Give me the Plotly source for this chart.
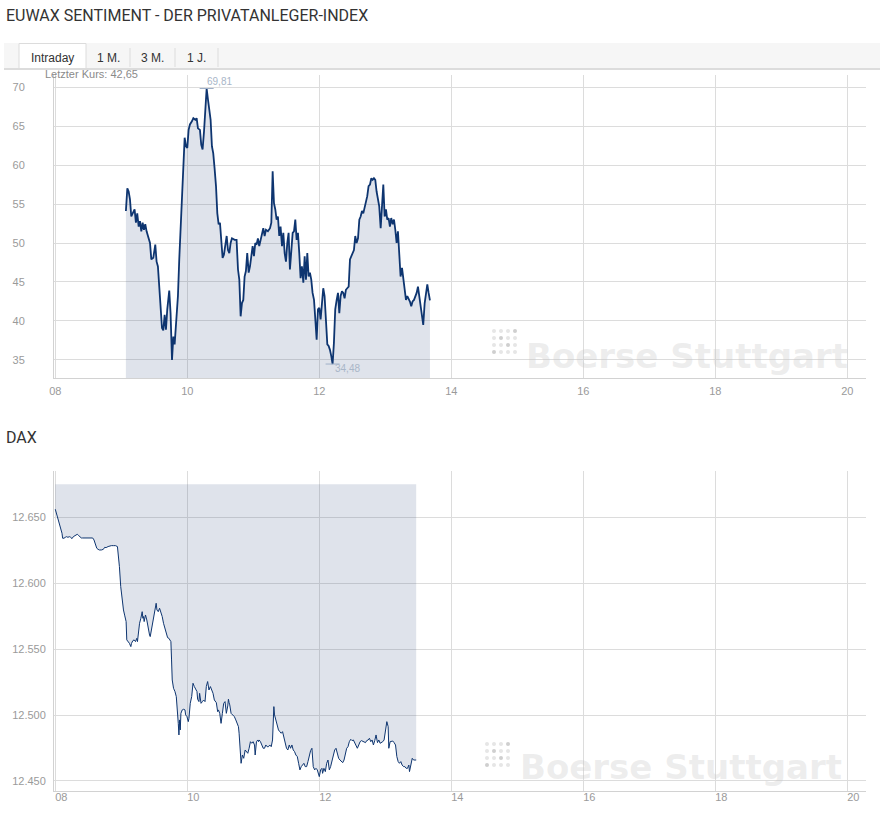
import pandas as pd
import plotly.graph_objects as go

W, H = 880, 816
DAY = "2019-06-03"

# ---------------- data: EUWAX sentiment (minutes after 09:00, index value)
sent_minutes = [
    4.2, 5.5, 6.7, 7.9, 9.1, 10.9, 12.1, 13.3, 14.5, 15.8,
    17.0, 18.2, 19.4, 20.6, 21.8, 23.0, 24.9, 26.1, 27.3, 29.1,
    30.9, 32.1, 33.3, 34.5, 35.8, 37.0, 38.2, 39.4, 40.6, 41.8,
    43.6, 44.8, 46.1, 47.3, 48.5, 50.3, 51.5, 52.7, 53.9, 55.2,
    56.4, 57.6, 58.8, 60.0, 61.2, 62.4, 64.2, 65.5, 67.3, 68.5,
    69.7, 71.5, 72.7, 73.9, 75.2, 76.4, 77.6, 78.8, 80.0, 81.2,
    82.4, 83.6, 84.8, 86.1, 87.3, 88.5, 89.7, 90.9, 92.1, 93.3,
    94.5, 95.8, 97.0, 98.2, 99.4, 100.6, 101.8, 103.0, 104.8, 106.1,
    107.3, 108.5, 109.7, 110.9, 112.1, 113.3, 114.5, 115.8, 117.0, 118.2,
    119.4, 120.6, 121.8, 123.0, 124.2, 125.4, 126.7, 127.9, 129.1, 130.3,
    131.5, 133.3, 135.2, 136.4, 137.6, 138.8, 140.0, 141.2, 142.4, 143.6,
    144.8, 146.1, 147.3, 148.5, 149.7, 150.9, 152.1, 153.3, 154.5, 155.8,
    157.0, 158.2, 159.4, 160.6, 161.8, 163.0, 164.2, 165.5, 166.7, 167.9,
    169.1, 170.3, 171.5, 172.7, 173.9, 175.2, 176.4, 177.6, 178.8, 180.0,
    181.2, 182.4, 183.6, 184.8, 186.1, 187.3, 188.5, 189.7, 190.9, 192.1,
    193.3, 194.5, 195.8, 197.0, 198.2, 199.4, 200.6, 201.8, 203.0, 204.2,
    205.4, 206.7, 207.9, 209.7, 211.5, 212.7, 213.9, 215.2, 216.4, 217.6,
    218.8, 220.0, 221.2, 222.4, 223.6, 224.8, 226.1, 227.3, 228.5, 229.7,
    230.9, 232.1, 233.3, 234.5, 235.8, 237.0, 238.2, 239.4, 240.6, 241.8,
    243.0, 244.2, 245.4, 246.7, 247.9, 249.1, 250.3, 251.5, 252.7, 253.9,
    255.2, 256.4, 257.6, 258.8, 260.0, 261.2, 262.4, 263.6, 264.8, 266.1,
    267.3, 268.5, 269.7, 270.9, 272.1, 273.3, 274.5, 275.8, 277.0, 278.2,
    279.4, 280.6,
]
sent_values = [
    54.1, 57.0, 56.6, 55.6, 53.4, 54.1, 54.3, 52.6, 53.8, 52.1,
    52.8, 51.5, 52.6, 51.7, 52.4, 51.5, 50.4, 50.0, 47.9, 48.1,
    49.8, 47.6, 47.0, 44.4, 41.5, 39.1, 38.8, 40.8, 38.9, 41.5,
    43.9, 41.0, 35.0, 38.0, 37.0, 41.0, 43.2, 47.9, 52.1, 56.4,
    59.8, 63.5, 62.4, 62.2, 64.5, 65.2, 65.6, 66.0, 65.8, 66.0,
    64.7, 64.5, 62.6, 62.0, 64.3, 67.1, 69.81, 68.4, 66.7, 65.8,
    62.4, 61.5, 59.6, 57.3, 53.8, 52.4, 52.6, 49.6, 48.1, 48.5,
    49.6, 50.9, 49.1, 48.7, 50.0, 50.6, 50.5, 50.4, 50.4, 46.6,
    45.3, 40.6, 42.3, 42.7, 45.7, 46.4, 48.7, 46.2, 47.0, 48.7,
    49.6, 48.3, 50.0, 49.8, 50.6, 49.6, 50.4, 50.9, 51.9, 50.9,
    51.7, 51.5, 51.9, 52.6, 59.2, 55.1, 54.3, 53.0, 53.4, 50.9,
    52.1, 49.6, 51.3, 48.7, 47.6, 50.0, 51.3, 46.6, 48.7, 51.3,
    51.5, 53.0, 50.4, 51.3, 48.7, 45.5, 47.0, 44.9, 48.3, 45.3,
    48.7, 45.7, 46.2, 45.3, 43.6, 42.7, 40.2, 37.6, 41.5, 41.7,
    40.2, 42.5, 44.2, 43.2, 40.2, 37.0, 36.8, 36.3, 35.5, 34.48,
    37.2, 41.5, 42.7, 43.6, 41.0, 43.2, 43.8, 43.6, 42.9, 44.0,
    44.2, 44.4, 47.9, 48.5, 49.1, 50.9, 50.0, 50.6, 53.0, 53.4,
    54.1, 53.8, 54.5, 54.9, 56.0, 57.3, 57.5, 58.3, 58.1, 58.3,
    58.1, 56.6, 55.3, 54.7, 51.9, 55.1, 57.5, 53.4, 54.3, 53.0,
    53.2, 52.1, 53.2, 52.4, 53.0, 51.7, 50.0, 51.5, 49.1, 45.7,
    46.8, 45.3, 43.6, 42.7, 43.2, 42.9, 42.5, 41.9, 42.5, 42.7,
    43.2, 43.6, 44.4, 43.2, 41.9, 41.0, 39.5, 42.3, 43.8, 44.7,
    43.6, 42.65,
]

# ---------------- data: DAX (minutes after 08:00, points)
dax_minutes = [
    0.0, 1.2, 2.4, 3.6, 4.9, 6.1, 6.7, 7.9, 9.1, 10.3,
    11.5, 12.8, 14.0, 15.2, 16.4, 17.6, 18.8, 20.0, 21.3, 22.5,
    23.7, 24.9, 26.7, 28.6, 31.0, 32.8, 34.0, 35.2, 36.5, 37.7,
    38.9, 40.1, 41.9, 43.7, 44.9, 46.2, 48.0, 49.2, 51.0, 52.9,
    54.7, 56.5, 57.1, 58.3, 59.5, 60.8, 62.0, 63.2, 64.4, 65.0,
    66.2, 67.4, 68.7, 69.3, 70.5, 71.7, 72.9, 74.1, 74.7, 75.3,
    76.6, 77.8, 79.0, 79.6, 80.2, 80.8, 82.0, 83.2, 84.5, 85.7,
    86.3, 87.5, 88.7, 89.9, 91.1, 91.7, 92.4, 93.6, 94.8, 96.0,
    97.2, 98.4, 99.6, 100.9, 102.1, 103.3, 104.5, 105.1, 105.7, 106.3,
    107.5, 108.8, 110.0, 111.2, 111.8, 112.4, 113.0, 113.6, 114.2, 115.4,
    116.7, 117.9, 118.5, 119.7, 120.9, 121.5, 122.7, 124.0, 125.2, 126.4,
    127.6, 128.8, 129.4, 130.6, 131.2, 132.5, 133.7, 134.9, 136.1, 137.3,
    138.5, 139.7, 141.0, 142.2, 143.4, 144.6, 146.4, 147.6, 148.3, 149.5,
    150.7, 151.9, 153.1, 154.3, 155.5, 156.8, 157.4, 158.0, 158.6, 159.8,
    161.6, 162.8, 164.1, 165.3, 166.5, 167.1, 167.7, 168.9, 170.1, 171.3,
    172.6, 173.8, 175.0, 176.2, 177.4, 178.6, 179.8, 181.1, 181.7, 182.9,
    184.1, 184.7, 185.3, 186.5, 187.7, 189.0, 190.2, 191.4, 192.6, 193.8,
    195.0, 196.3, 197.5, 198.7, 199.3, 200.5, 201.7, 202.9, 204.1, 205.4,
    206.6, 207.8, 209.0, 210.2, 211.4, 212.7, 213.9, 215.1, 216.3, 217.5,
    218.7, 220.0, 221.2, 222.4, 223.6, 224.8, 226.0, 227.2, 228.5, 229.7,
    230.9, 232.1, 233.3, 233.9, 234.5, 235.8, 237.0, 238.2, 239.4, 240.0,
    241.2, 242.4, 243.0, 244.2, 245.5, 246.7, 247.9, 249.1, 250.3, 251.5,
    252.8, 254.0, 255.2, 256.4, 257.6, 258.8, 260.0, 261.3, 262.5, 263.7,
    264.9, 266.1, 267.3, 268.6, 269.8, 271.0, 272.2, 273.4, 274.6, 275.9,
    277.1, 278.3, 280.1, 282.0, 283.1, 284.4, 285.6, 286.8, 288.0, 289.2,
    290.4, 291.6, 292.9, 294.1, 295.3, 296.5, 297.7, 298.9, 300.2, 301.4,
    302.6, 303.2, 304.4, 305.6, 306.8, 308.0, 309.3, 310.5, 311.7, 312.9,
    314.1, 315.3, 316.6, 317.8, 319.0, 320.2, 321.4, 322.0, 323.2, 324.5,
    325.7, 326.9, 328.1,
]
dax_values = [
    12656.1, 12652.3, 12649.2, 12646.7, 12641.7, 12637.9, 12634.1, 12634.1, 12634.8, 12635.3,
    12634.8, 12635.3, 12634.8, 12633.8, 12635.3, 12635.8, 12636.3, 12637.1, 12636.1, 12634.8,
    12634.3, 12634.3, 12634.3, 12634.8, 12634.8, 12634.8, 12634.3, 12632.8, 12629.0, 12626.5,
    12625.7, 12625.2, 12625.2, 12625.7, 12627.2, 12627.0, 12627.8, 12628.3, 12628.5, 12628.5,
    12628.5, 12627.8, 12624.0, 12612.6, 12597.4, 12587.3, 12579.7, 12575.2, 12570.9, 12557.0,
    12555.7, 12554.4, 12551.9, 12554.4, 12556.4, 12557.0, 12555.7, 12558.2, 12555.7, 12562.0,
    12569.6, 12573.4, 12578.4, 12573.4, 12574.7, 12570.9, 12575.9, 12572.1, 12564.5, 12560.7,
    12559.5, 12565.8, 12572.6, 12575.9, 12582.2, 12584.8, 12579.7, 12578.4, 12581.0, 12578.4,
    12574.7, 12569.6, 12565.8, 12562.0, 12558.7, 12558.2, 12557.0, 12555.7, 12541.8, 12526.6,
    12520.3, 12517.8, 12514.0, 12503.9, 12493.7, 12484.9, 12496.3, 12488.7, 12501.3, 12503.9,
    12504.4, 12503.9, 12500.1, 12498.8, 12495.0, 12497.5, 12508.9, 12514.0, 12524.1, 12521.6,
    12519.0, 12517.8, 12512.0, 12510.2, 12516.5, 12508.9, 12510.2, 12511.4, 12510.2, 12521.6,
    12525.4, 12519.0, 12521.6, 12519.0, 12516.5, 12511.4, 12509.4, 12502.6, 12503.9, 12501.3,
    12493.7, 12501.3, 12508.9, 12510.2, 12501.3, 12506.9, 12512.0, 12509.4, 12507.7, 12501.3,
    12500.1, 12498.8, 12496.3, 12493.7, 12491.2, 12486.2, 12476.0, 12463.4, 12469.7, 12467.2,
    12473.5, 12472.3, 12471.0, 12474.8, 12479.8, 12478.6, 12479.8, 12477.3, 12469.7, 12479.8,
    12481.1, 12479.8, 12481.1, 12479.8, 12477.3, 12474.8, 12474.8, 12477.3, 12476.0, 12476.0,
    12477.3, 12476.0, 12481.1, 12506.4, 12500.1, 12496.3, 12492.5, 12488.7, 12487.4, 12486.2,
    12487.4, 12482.4, 12478.6, 12474.8, 12473.5, 12477.3, 12474.8, 12477.3, 12473.5, 12472.3,
    12469.7, 12468.5, 12463.4, 12458.4, 12460.9, 12462.1, 12463.4, 12460.9, 12460.9, 12464.7,
    12469.7, 12473.0, 12474.8, 12469.7, 12460.9, 12458.4, 12459.6, 12458.4, 12454.6, 12453.3,
    12458.4, 12459.6, 12455.8, 12459.6, 12457.1, 12463.4, 12465.9, 12458.4, 12460.9, 12464.7,
    12468.5, 12473.5, 12474.8, 12471.0, 12467.2, 12465.9, 12464.7, 12463.9, 12465.9, 12471.0,
    12474.8, 12476.0, 12479.8, 12481.6, 12480.6, 12481.1, 12479.1, 12477.3, 12474.8, 12477.3,
    12479.8, 12480.6, 12479.8, 12479.1, 12480.6, 12481.1, 12482.4, 12479.8, 12481.1, 12477.3,
    12480.6, 12484.9, 12479.1, 12481.1, 12478.6, 12479.1, 12479.8, 12481.1, 12488.7, 12495.0,
    12491.2, 12474.8, 12479.8, 12479.8, 12480.3, 12479.1, 12477.3, 12468.5, 12464.7, 12463.4,
    12464.7, 12462.1, 12460.9, 12460.9, 12459.6, 12459.6, 12462.1, 12457.1, 12463.4, 12467.2,
    12465.9, 12465.9, 12465.9,
]
dax_fill_top = 12675

sent_ticks = [35, 40, 45, 50, 55, 60, 65, 70]
dax_ticks = [12450, 12500, 12550, 12600, 12650]
tab_labels = ["Intraday", "1 M.", "3 M.", "1 J."]

# ---------------- helpers
def px(x):
    return x / W

def py(y):
    return 1 - y / H

def de(v):
    return f"{v:.2f}".replace(".", ",")

sent_t = pd.Timestamp(f"{DAY} 09:00") + pd.to_timedelta(sent_minutes, unit="m")
dax_t = pd.Timestamp(f"{DAY} 08:00") + pd.to_timedelta(dax_minutes, unit="m")

LINE = "#0e3570"
FILL = "rgba(40,70,120,0.15)"
GRID = "#dcdcdc"
AXLINE = "#d2d2d2"
TICKF = dict(family="Liberation Sans, Arial, sans-serif", size=11, color="#9a9a9a")
TXT = "#333333"

fig = go.Figure()

# top chart
fig.add_trace(go.Scatter(x=sent_t, y=sent_values, mode="lines",
                         line=dict(color=LINE, width=1.8), fill="tozeroy",
                         fillcolor=FILL, xaxis="x", yaxis="y",
                         hoverinfo="skip", showlegend=False))

imax = max(range(len(sent_values)), key=lambda i: sent_values[i])
imin = min(range(len(sent_values)), key=lambda i: sent_values[i])
fig.add_trace(go.Scatter(x=[sent_t[imax], sent_t[imin]],
                         y=[sent_values[imax], sent_values[imin]],
                         mode="markers",
                         marker=dict(symbol="line-ew", size=10,
                                     line=dict(color="#9fb0c8", width=1)),
                         xaxis="x", yaxis="y", hoverinfo="skip", showlegend=False))

# bottom chart: band from line up to the top value
fig.add_trace(go.Scatter(x=[dax_t[0], dax_t[-1]], y=[dax_fill_top, dax_fill_top],
                         mode="lines", line=dict(width=0, color="rgba(0,0,0,0)"),
                         xaxis="x2", yaxis="y2", hoverinfo="skip", showlegend=False))
fig.add_trace(go.Scatter(x=dax_t, y=dax_values, mode="lines",
                         line=dict(color=LINE, width=1), fill="tonexty",
                         fillcolor=FILL, xaxis="x2", yaxis="y2",
                         hoverinfo="skip", showlegend=False))

xrange_ = [f"{DAY} 07:58:50", f"{DAY} 20:17:00"]
xcommon = dict(type="date", range=xrange_, tick0=f"{DAY} 08:00", dtick=7200000,
               tickformat="%H", showgrid=True, gridcolor=GRID, gridwidth=1,
               showline=True, linecolor=AXLINE, linewidth=1, ticks="",
               tickfont=TICKF, zeroline=False, fixedrange=True, automargin=False)

fig.update_layout(
    width=W, height=H,
    margin=dict(l=0, r=0, t=0, b=0, pad=0),
    paper_bgcolor="white", plot_bgcolor="white",
    separators=",.",
    showlegend=False,
    hovermode=False,
    xaxis=dict(domain=[px(54), px(866)], anchor="y", ticklabelstandoff=3, **xcommon),
    yaxis=dict(domain=[py(378), py(75)], anchor="x", range=[32.69, 71.54],
               tickvals=sent_ticks, showgrid=True, gridcolor=GRID,
               showline=True, linecolor=AXLINE, ticks="", tickfont=TICKF,
               ticklabelstandoff=26, zeroline=False, automargin=False, fixedrange=True),
    xaxis2=dict(domain=[px(54), px(866)], anchor="y2", ticklabelstandoff=-4,
                ticklabelshift=6, **xcommon),
    yaxis2=dict(domain=[py(791), py(471)], anchor="x2", range=[12442.4, 12685.1],
                tickvals=dax_ticks, tickformat=",d", showgrid=True, gridcolor=GRID,
                showline=True, linecolor=AXLINE, ticks="", tickfont=TICKF,
                ticklabelstandoff=5, zeroline=False, automargin=False, fixedrange=True),
)

ann = []
shapes = []
TITLEF = dict(family="Roboto, Liberation Sans, sans-serif", size=16, color=TXT)
ann.append(dict(text="EUWAX SENTIMENT - DER PRIVATANLEGER-INDEX", x=px(4), y=py(15),
                xref="paper", yref="paper", xanchor="left", yanchor="middle",
                showarrow=False, font=TITLEF))
ann.append(dict(text="DAX", x=px(4), y=py(437), xref="paper", yref="paper",
                xanchor="left", yanchor="middle", showarrow=False, font=TITLEF))

# tab bar
shapes.append(dict(type="rect", xref="paper", yref="paper", x0=px(4), x1=px(880),
                   y0=py(68), y1=py(43), fillcolor="#f6f6f6", line=dict(width=0), layer="below"))
shapes.append(dict(type="rect", xref="paper", yref="paper", x0=px(19), x1=px(86),
                   y0=py(69), y1=py(43.5), fillcolor="white",
                   line=dict(color="#dcdcdc", width=1), layer="below"))
for sx in [130, 175, 218]:
    shapes.append(dict(type="line", xref="paper", yref="paper", x0=px(sx), x1=px(sx),
                       y0=py(67), y1=py(48), line=dict(color="#dcdcdc", width=1)))
shapes.append(dict(type="line", xref="paper", yref="paper", x0=px(4), x1=px(880),
                   y0=py(69), y1=py(69), line=dict(color="#dcdcdc", width=2)))
for lab, cx in zip(tab_labels, [52, 108, 152, 196]):
    ann.append(dict(text=lab, x=px(cx), y=py(58), xref="paper", yref="paper",
                    xanchor="center", yanchor="middle", showarrow=False,
                    font=dict(family="Liberation Sans, Arial, sans-serif", size=12, color=TXT)))

ann.append(dict(text=f"Letzter Kurs: {de(sent_values[-1])}", x=px(43), y=py(74),
                xref="paper", yref="paper", xanchor="left", yanchor="middle",
                showarrow=False,
                font=dict(family="Liberation Sans, Arial, sans-serif", size=11, color="#8a8a8a")))

# max/min labels
MMF = dict(family="Liberation Sans, Arial, sans-serif", size=10, color="#a9b6c8")
ann.append(dict(text=de(sent_values[imax]), x=sent_t[imax], y=sent_values[imax],
                xref="x", yref="y", xanchor="left", yanchor="middle", yshift=7,
                xshift=-2, showarrow=False, font=MMF))
ann.append(dict(text=de(sent_values[imin]), x=sent_t[imin], y=sent_values[imin],
                xref="x", yref="y", xanchor="left", yanchor="middle", yshift=-4,
                showarrow=False, font=MMF))

# watermarks
def watermark(tx, ty, dx, dy):
    ann.append(dict(text="<b>Boerse Stuttgart</b>", x=px(tx), y=py(ty), xref="paper",
                    yref="paper", xanchor="left", yanchor="middle", showarrow=False,
                    font=dict(family="DejaVu Sans, sans-serif", size=34,
                              color="rgba(200,200,200,0.33)")))
    dark = {(0, 3), (1, 1), (2, 2), (3, 0)}
    for r in range(4):
        for c in range(4):
            cx, cy = dx + c * 7, dy + r * 7
            col = "#cfcfcf" if (r, c) in dark else "#e6e6e6"
            shapes.append(dict(type="circle", xref="paper", yref="paper",
                               x0=px(cx - 2), x1=px(cx + 2), y0=py(cy + 2), y1=py(cy - 2),
                               fillcolor=col, line=dict(width=0), layer="above"))

watermark(524, 356, 494, 331)
watermark(518, 767, 487, 744)

fig.update_layout(annotations=ann, shapes=shapes)
fig.write_html("out.html", config={"displayModeBar": False, "staticPlot": True},
               post_script="document.body.style.margin='0';")
